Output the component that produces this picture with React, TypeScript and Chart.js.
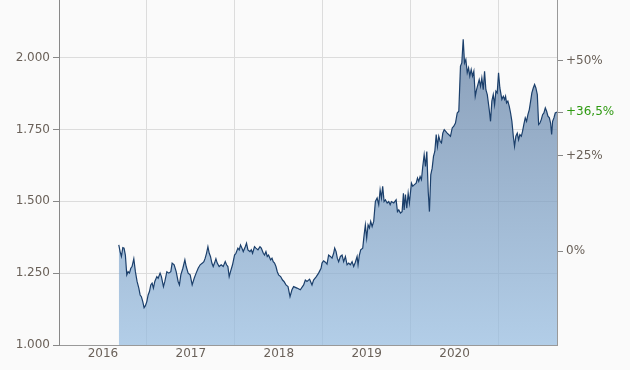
import { useEffect, useRef } from "react";
import { Chart, registerables } from "chart.js";

Chart.register(...registerables);

// Decimal-year dates of the closes
const dates = [
  2016.680, 2016.695, 2016.710, 2016.726, 2016.740, 2016.755, 2016.771, 2016.786, 2016.801, 2016.817,
  2016.831, 2016.851, 2016.869, 2016.888, 2016.908, 2016.923, 2016.937, 2016.953, 2016.968, 2016.983,
  2016.999, 2017.014, 2017.029, 2017.044, 2017.059, 2017.074, 2017.090, 2017.113, 2017.128, 2017.150,
  2017.165, 2017.188, 2017.204, 2017.227, 2017.249, 2017.272, 2017.287, 2017.310, 2017.333, 2017.355,
  2017.370, 2017.386, 2017.409, 2017.432, 2017.447, 2017.469, 2017.492, 2017.515, 2017.538, 2017.560,
  2017.583, 2017.606,
  2017.632, 2017.648, 2017.663, 2017.678, 2017.694, 2017.709, 2017.723, 2017.739, 2017.754, 2017.769,
  2017.785, 2017.800, 2017.822, 2017.845, 2017.868, 2017.891, 2017.906, 2017.921, 2017.936, 2017.951,
  2017.974, 2017.997, 2018.013, 2018.035, 2018.050, 2018.065, 2018.081, 2018.096, 2018.119, 2018.133,
  2018.149, 2018.172, 2018.187, 2018.202, 2018.224, 2018.240, 2018.263, 2018.286, 2018.301, 2018.324,
  2018.338, 2018.354, 2018.369, 2018.384, 2018.407, 2018.423, 2018.437, 2018.452, 2018.468, 2018.483,
  2018.498, 2018.521, 2018.543, 2018.559, 2018.582, 2018.605, 2018.628,
  2018.650, 2018.669, 2018.707, 2018.745, 2018.783, 2018.802, 2018.821, 2018.851, 2018.878, 2018.896,
  2018.927, 2018.953, 2018.981, 2018.992, 2019.010, 2019.030, 2019.049, 2019.067, 2019.087, 2019.106,
  2019.124, 2019.136, 2019.152, 2019.166, 2019.181, 2019.201, 2019.220, 2019.238, 2019.258, 2019.277,
  2019.295, 2019.314, 2019.334, 2019.352, 2019.371, 2019.391, 2019.402, 2019.417, 2019.432, 2019.455,
  2019.471, 2019.485, 2019.500, 2019.516, 2019.531, 2019.546, 2019.562, 2019.580, 2019.599, 2019.619,
  2019.637, 2019.653,
  2019.668, 2019.682, 2019.698, 2019.713, 2019.733, 2019.751, 2019.767, 2019.781, 2019.808, 2019.835,
  2019.850, 2019.865, 2019.884, 2019.903, 2019.918, 2019.926, 2019.941, 2019.956, 2019.972, 2019.986,
  2020.009, 2020.024, 2020.040, 2020.063, 2020.078, 2020.092, 2020.108, 2020.123, 2020.138, 2020.154,
  2020.169, 2020.184, 2020.200, 2020.214, 2020.229, 2020.245, 2020.260, 2020.275, 2020.291, 2020.305,
  2020.320, 2020.336, 2020.351, 2020.366, 2020.382, 2020.416, 2020.453,
  2020.473, 2020.491, 2020.510, 2020.530, 2020.548, 2020.567, 2020.582, 2020.598, 2020.613, 2020.628,
  2020.644, 2020.659, 2020.673, 2020.689, 2020.704, 2020.719, 2020.735, 2020.750, 2020.765, 2020.780,
  2020.795, 2020.810, 2020.826, 2020.841, 2020.856, 2020.872, 2020.894, 2020.909, 2020.924, 2020.940,
  2020.955, 2020.970, 2020.985, 2021.000, 2021.015,
  2021.038, 2021.054, 2021.069, 2021.080, 2021.091, 2021.106, 2021.122, 2021.137, 2021.152, 2021.168,
  2021.182, 2021.197, 2021.213, 2021.228, 2021.243, 2021.259, 2021.273, 2021.288, 2021.304, 2021.319,
  2021.334, 2021.350, 2021.365, 2021.379, 2021.395, 2021.410, 2021.425, 2021.441, 2021.456, 2021.471,
  2021.486, 2021.501, 2021.516, 2021.532, 2021.547, 2021.562, 2021.578, 2021.592, 2021.604, 2021.615,
  2021.630, 2021.645, 2021.665,
];

// Closing values
const closes = [
  1348, 1325, 1308, 1339, 1337, 1313, 1244, 1255, 1250, 1267,
  1273, 1300, 1255, 1221, 1198, 1174, 1168, 1151, 1130, 1137,
  1151, 1174, 1186, 1209, 1215, 1198, 1221, 1238, 1232, 1250,
  1238, 1203, 1221, 1255, 1250, 1255, 1285, 1279, 1255, 1221,
  1209, 1244, 1267, 1296, 1273, 1250, 1244, 1209, 1232, 1250,
  1267, 1279,
  1285, 1290, 1302, 1319, 1342, 1319, 1308, 1285, 1273, 1285,
  1300, 1285, 1273, 1279, 1273, 1290, 1279, 1273, 1238, 1255,
  1279, 1313, 1319, 1337, 1331, 1348, 1337, 1325, 1342, 1354,
  1331, 1325, 1331, 1319, 1342, 1337, 1331, 1342, 1337, 1319,
  1313, 1325, 1308, 1313, 1296, 1302, 1290, 1285, 1273, 1255,
  1244, 1238, 1226, 1221, 1209, 1203, 1168,
  1192, 1203, 1198, 1192, 1209, 1226, 1221, 1229, 1209, 1226,
  1238, 1250, 1267, 1285, 1293, 1288, 1281, 1313, 1308, 1302,
  1319, 1337, 1325, 1302, 1290, 1308, 1313, 1290, 1308, 1279,
  1285, 1279, 1290, 1273, 1288, 1308, 1279, 1313, 1331, 1337,
  1383, 1418, 1372, 1418, 1407, 1430, 1412, 1430, 1499, 1511,
  1488, 1540,
  1511, 1552, 1499, 1505, 1494, 1499, 1488, 1499, 1494, 1505,
  1464, 1470, 1459, 1464, 1528, 1470, 1523, 1476, 1528, 1494,
  1563, 1552, 1557, 1563, 1581, 1569, 1586, 1575, 1621, 1662,
  1621, 1673, 1534, 1464, 1592, 1615, 1656, 1673, 1732, 1691,
  1726, 1708, 1703, 1737, 1749, 1737, 1726,
  1755, 1761, 1772, 1807, 1813, 1970, 1981, 2063, 1981, 1993,
  1947, 1964, 1935, 1958, 1935, 1952, 1865, 1888, 1906, 1923,
  1900, 1929, 1888, 1952, 1888, 1871, 1819, 1778, 1848, 1871,
  1836, 1883, 1877, 1947, 1894,
  1854, 1865, 1854, 1865, 1842, 1848, 1830, 1807, 1778, 1726,
  1691, 1726, 1737, 1714, 1732, 1726, 1743, 1767, 1790, 1778,
  1801, 1819, 1848, 1877, 1894, 1906, 1894, 1871, 1767, 1772,
  1784, 1801, 1807, 1825, 1813, 1796, 1790, 1772, 1732, 1778,
  1790, 1807, 1810,
];

const baseValue = 1326; // reference for the % axis
const valueTicks = [1000, 1250, 1500, 1750, 2000];
const yearLabels = [2016, 2017, 2018, 2019, 2020];
const pctTicks = [0, 25, 50];
const xMin = 2016;
const xMax = 2021.665;
const yMin = 1000;
const yMax = 2200;

const GREEN = "#2f9a12";
const TEXT = "#6a6159";

function fmtValue(v: number): string {
  const th = Math.floor(v / 1000);
  const rest = Math.round(v % 1000);
  return `${th}.${String(rest).padStart(3, "0")}`;
}

export default function App() {
  const ref = useRef<HTMLCanvasElement | null>(null);

  useEffect(() => {
    document.body.style.margin = "0";
    document.body.style.background = "#fafafa";
    const canvas = ref.current;
    if (!canvas) return;

    const n = Math.min(dates.length, closes.length);
    const points = [];
    for (let i = 0; i < n; i++) points.push({ x: dates[i], y: closes[i] });
    const last = closes[n - 1];
    const lastPct = (last / baseValue - 1) * 100;
    const pctMin = (yMin / baseValue - 1) * 100;
    const pctMax = (yMax / baseValue - 1) * 100;

    const chart = new Chart(canvas, {
      type: "line",
      data: {
        datasets: [
          {
            data: points,
            borderColor: "#1b3f6b",
            borderWidth: 1.2,
            pointRadius: 0,
            tension: 0,
            fill: "start",
            backgroundColor: (ctx: any) => {
              const area = ctx.chart.chartArea;
              if (!area) return "rgba(120,160,200,0.6)";
              const g = ctx.chart.ctx.createLinearGradient(0, area.top, 0, area.bottom);
              g.addColorStop(0, "rgba(88,116,152,0.72)");
              g.addColorStop(1, "rgba(150,188,224,0.72)");
              return g;
            },
          },
        ],
      },
      options: {
        responsive: false,
        animation: false,
        devicePixelRatio: 1,
        layout: { padding: 0 },
        plugins: { legend: { display: false }, tooltip: { enabled: false } },
        font: { family: "'DejaVu Sans'", size: 12 },
        scales: {
          x: {
            type: "linear",
            min: xMin,
            max: xMax,
            afterBuildTicks: (s: any) => {
              s.ticks = yearLabels.map((y) => ({ value: y + 0.5 }));
            },
            afterFit: (s: any) => {
              s.height = 25;
              s.paddingLeft = 0;
              s.paddingRight = 0;
            },
            ticks: {
              autoSkip: false,
              maxRotation: 0,
              padding: 2,
              color: TEXT,
              font: { family: "'DejaVu Sans'", size: 12 },
              callback: (v: any) => String(Math.floor(Number(v))),
            },
            grid: { offset: true, color: "#dcdcdc", drawTicks: false },
            border: { color: "#999" },
          },
          y: {
            type: "linear",
            position: "left",
            min: yMin,
            max: yMax,
            afterBuildTicks: (s: any) => {
              s.ticks = valueTicks.map((v) => ({ value: v }));
            },
            afterFit: (s: any) => {
              s.width = 59;
              s.paddingTop = 0;
              s.paddingBottom = 0;
            },
            ticks: {
              autoSkip: false,
              padding: 3,
              color: TEXT,
              font: { family: "'DejaVu Sans'", size: 12 },
              callback: (v: any) => fmtValue(Number(v)),
            },
            grid: { color: "#dcdcdc", tickLength: 6, tickColor: "#888" },
            border: { color: "#888" },
          },
          y2: {
            type: "linear",
            position: "right",
            min: pctMin,
            max: pctMax,
            afterBuildTicks: (s: any) => {
              s.ticks = [...pctTicks, lastPct].map((v) => ({ value: v }));
            },
            afterFit: (s: any) => {
              s.width = 73;
              s.paddingTop = 0;
              s.paddingBottom = 0;
            },
            ticks: {
              autoSkip: false,
              padding: 3,
              font: { family: "'DejaVu Sans'", size: 12 },
              color: (c: any) =>
                c.tick && Math.abs(c.tick.value - lastPct) < 1e-6 ? GREEN : TEXT,
              callback: (v: any) => {
                const num = Number(v);
                if (Math.abs(num - lastPct) < 1e-6) {
                  return "+" + num.toFixed(1).replace(".", ",") + "%";
                }
                return (num > 0 ? "+" : "") + Math.round(num) + "%";
              },
            },
            grid: { drawOnChartArea: false, tickLength: 6, tickColor: "#888" },
            border: { color: "#999" },
          },
        },
      } as any,
    });
    return () => chart.destroy();
  }, []);

  return (
    <div style={{ width: 630, height: 370, background: "#fafafa" }}>
      <canvas ref={ref} width={630} height={370} style={{ display: "block" }} />
    </div>
  );
}
